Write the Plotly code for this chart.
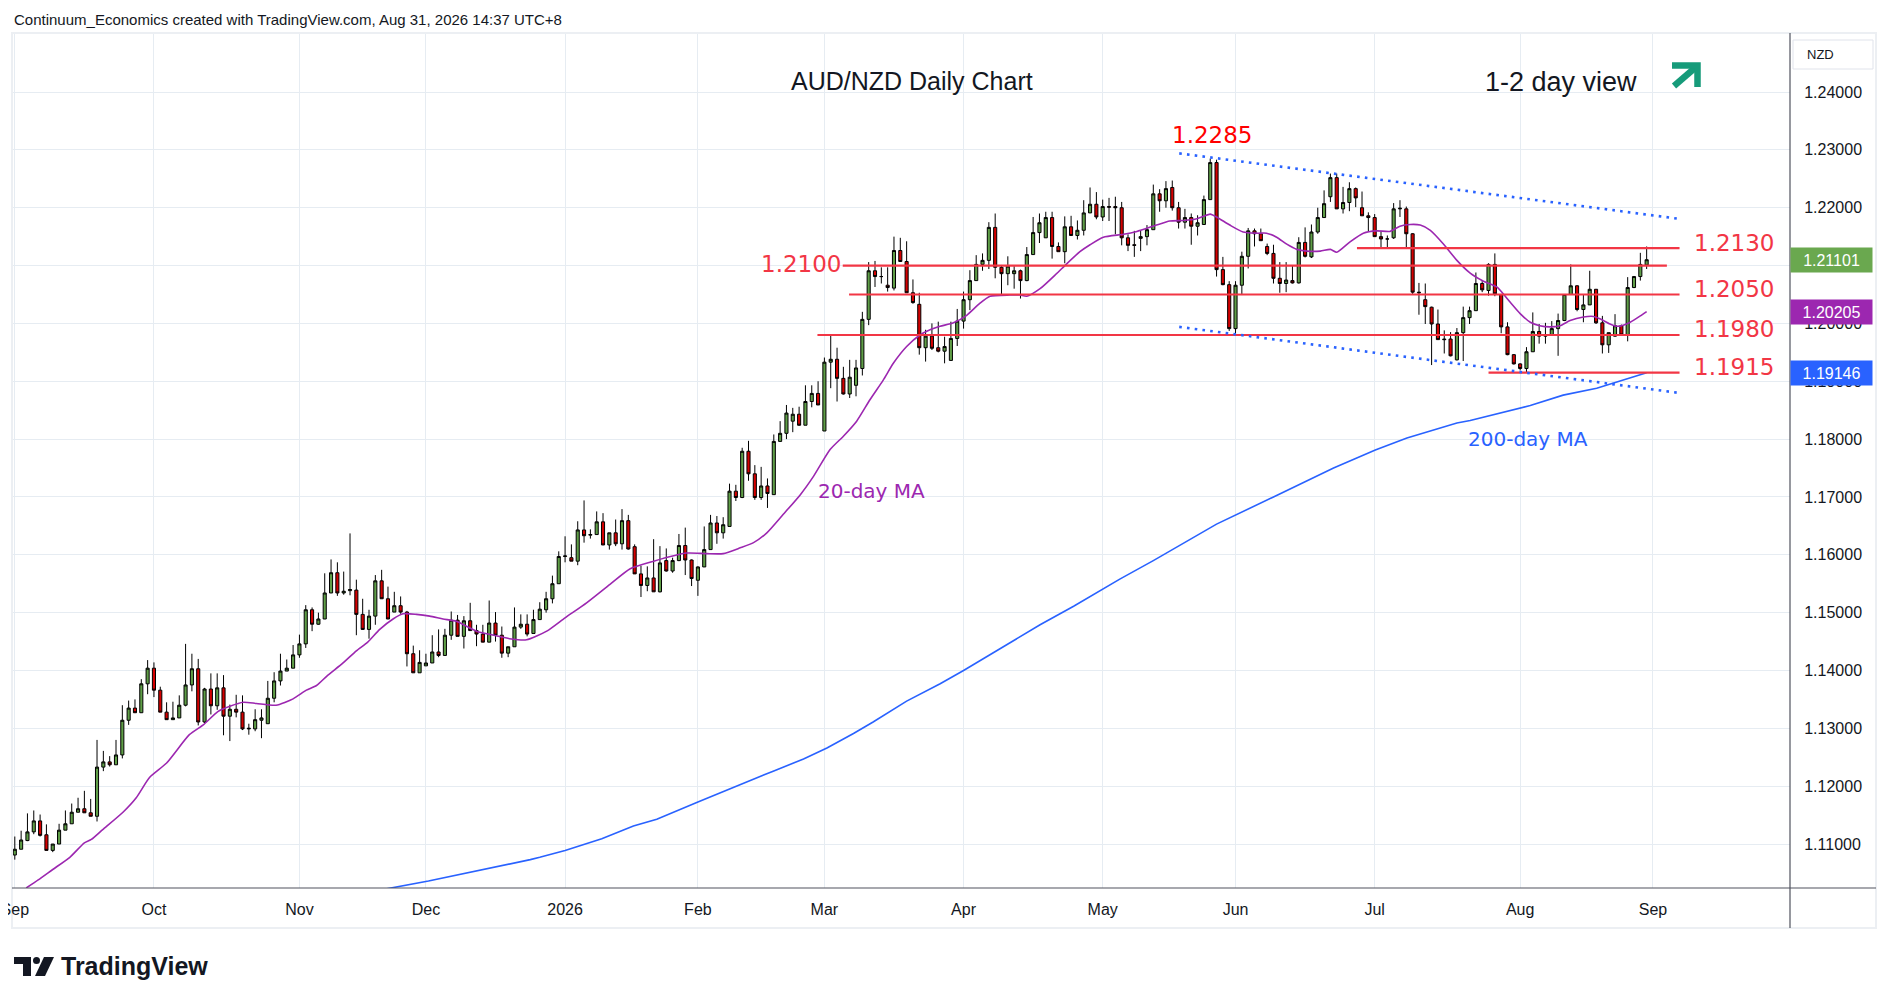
import plotly.graph_objects as go
import pandas as pd

# ---------------- data ----------------
holidays = ["2025-12-25", "2026-01-01"]
dates = [d for d in pd.bdate_range("2025-09-01", "2026-08-31") if d.strftime("%Y-%m-%d") not in holidays]

opens = [1.1081,1.1091,1.1106,1.1121,1.1140,1.1116,1.1089,1.1100,1.1124,1.1135,1.1155,1.1161,1.1154,1.1148,1.1233,1.1242,1.1237,1.1254,1.1314,1.1335,
1.1327,1.1377,1.1404,1.1366,1.1328,1.1315,1.1318,1.1340,1.1375,1.1403,1.1311,1.1368,1.1339,1.1370,1.1321,1.1333,1.1328,1.1299,1.1299,1.1314,
1.1308,1.1352,1.1382,1.1399,1.1404,1.1427,1.1446,1.1505,1.1480,1.1489,1.1534,1.1569,1.1534,1.1538,1.1539,1.1497,1.1471,1.1494,1.1555,1.1524,
1.1501,1.1512,1.1501,1.1429,1.1396,1.1408,1.1413,1.1432,1.1426,1.1461,1.1487,1.1459,1.1486,1.1469,1.1463,1.1449,1.1482,1.1461,1.1430,1.1441,
1.1475,1.1480,1.1464,1.1488,1.1505,1.1524,1.1550,1.1597,1.1595,1.1589,1.1643,1.1634,1.1635,1.1657,1.1617,1.1638,1.1619,1.1659,1.1614,1.1567,
1.1547,1.1560,1.1536,1.1590,1.1572,1.1590,1.1616,1.1591,1.1556,1.1579,1.1609,1.1655,1.1638,1.1649,1.1710,1.1699,1.1779,1.1740,1.1699,1.1719,
1.1704,1.1796,1.1810,1.1831,1.1843,1.1824,1.1865,1.1879,1.1814,1.1933,1.1938,1.1905,1.1878,1.1893,1.1922,1.2007,1.2091,1.2081,1.2066,1.2061,
1.2126,1.2107,1.2053,1.2033,1.1958,1.1978,1.1958,1.1952,1.1936,1.1974,1.2004,1.2041,1.2074,1.2102,1.2109,1.2166,1.2097,1.2086,1.2086,1.2091,
1.2074,1.2119,1.2157,1.2148,1.2183,1.2133,1.2124,1.2167,1.2152,1.2161,1.2191,1.2206,1.2184,1.2202,1.2202,1.2200,1.2148,1.2136,1.2147,1.2150,
1.2162,1.2224,1.2212,1.2235,1.2200,1.2175,1.2183,1.2168,1.2171,1.2214,1.2278,1.2093,1.2067,1.1991,1.2066,1.2116,1.2160,1.2155,1.2133,1.2121,
1.2078,1.2069,1.2074,1.2070,1.2140,1.2115,1.2158,1.2183,1.2219,1.2252,1.2198,1.2209,1.2233,1.2200,1.2186,1.2183,1.2150,1.2146,1.2148,1.2198,
1.2198,1.2155,1.2054,1.2041,1.2028,1.1999,1.1973,1.1973,1.1937,1.1984,1.2010,1.2022,1.2069,1.2057,1.2102,1.2050,1.1994,1.1946,1.1930,1.1922,
1.1951,1.1986,1.1978,1.1980,1.1991,1.2005,1.2050,1.2065,1.2024,1.2032,1.2059,1.2001,1.1963,1.1978,1.1996,1.1980,1.2062,1.2081,1.2101]

highs = [1.1113,1.1123,1.1153,1.1158,1.1151,1.1134,1.1100,1.1135,1.1158,1.1170,1.1180,1.1192,1.1178,1.1280,1.1261,1.1252,1.1280,1.1340,1.1348,1.1350,
1.1385,1.1418,1.1414,1.1372,1.1345,1.1346,1.1357,1.1446,1.1429,1.1420,1.1370,1.1395,1.1395,1.1392,1.1341,1.1358,1.1357,1.1308,1.1333,1.1333,
1.1382,1.1397,1.1429,1.1419,1.1444,1.1462,1.1513,1.1509,1.1500,1.1568,1.1592,1.1587,1.1571,1.1637,1.1557,1.1524,1.1505,1.1565,1.1574,1.1545,
1.1536,1.1528,1.1503,1.1443,1.1435,1.1429,1.1461,1.1471,1.1472,1.1502,1.1496,1.1494,1.1517,1.1479,1.1479,1.1521,1.1501,1.1476,1.1441,1.1509,
1.1497,1.1497,1.1505,1.1518,1.1536,1.1564,1.1606,1.1632,1.1618,1.1658,1.1694,1.1644,1.1675,1.1672,1.1638,1.1661,1.1679,1.1669,1.1618,1.1581,
1.1580,1.1627,1.1615,1.1611,1.1595,1.1636,1.1647,1.1592,1.1580,1.1649,1.1669,1.1667,1.1665,1.1723,1.1721,1.1785,1.1797,1.1755,1.1752,1.1732,
1.1808,1.1831,1.1859,1.1854,1.1856,1.1893,1.1893,1.1900,1.1941,1.1981,1.1958,1.1925,1.1937,1.1937,1.2020,1.2106,1.2108,1.2097,1.2097,1.2150,
1.2148,1.2142,1.2076,1.2053,1.1989,1.2000,1.2003,1.1977,1.2003,1.2025,1.2055,1.2092,1.2118,1.2121,1.2175,1.2190,1.2101,1.2116,1.2099,1.2093,
1.2132,1.2184,1.2190,1.2193,1.2193,1.2140,1.2185,1.2186,1.2178,1.2213,1.2235,1.2227,1.2214,1.2217,1.2219,1.2210,1.2154,1.2160,1.2161,1.2170,
1.2240,1.2232,1.2246,1.2247,1.2210,1.2198,1.2190,1.2187,1.2221,1.2285,1.2283,1.2115,1.2073,1.2073,1.2124,1.2165,1.2164,1.2164,1.2138,1.2136,
1.2106,1.2106,1.2100,1.2149,1.2166,1.2171,1.2200,1.2230,1.2259,1.2259,1.2236,1.2244,1.2235,1.2228,1.2192,1.2189,1.2159,1.2152,1.2208,1.2213,
1.2202,1.2156,1.2070,1.2069,1.2029,1.2024,1.1988,1.1985,1.1992,1.2029,1.2029,1.2088,1.2073,1.2104,1.2121,1.2051,1.2002,1.1947,1.1931,1.1959,
1.2019,1.1999,1.2001,1.2004,1.2017,1.2050,1.2102,1.2066,1.2050,1.2091,1.2059,1.2013,1.1984,1.2016,1.1998,1.2080,1.2082,1.2122,1.2133]

lows = [1.1073,1.1091,1.1105,1.1117,1.1113,1.1089,1.1086,1.1100,1.1124,1.1135,1.1155,1.1154,1.1148,1.1139,1.1226,1.1234,1.1237,1.1248,1.1306,1.1327,
1.1327,1.1359,1.1354,1.1328,1.1315,1.1315,1.1318,1.1338,1.1364,1.1305,1.1309,1.1324,1.1332,1.1288,1.1278,1.1319,1.1297,1.1289,1.1295,1.1283,
1.1308,1.1345,1.1374,1.1399,1.1404,1.1422,1.1439,1.1468,1.1479,1.1489,1.1534,1.1529,1.1531,1.1530,1.1461,1.1470,1.1455,1.1479,1.1524,1.1489,
1.1501,1.1498,1.1407,1.1396,1.1396,1.1408,1.1413,1.1423,1.1426,1.1453,1.1459,1.1438,1.1469,1.1442,1.1449,1.1449,1.1450,1.1422,1.1423,1.1441,
1.1472,1.1459,1.1464,1.1488,1.1500,1.1516,1.1550,1.1587,1.1589,1.1582,1.1621,1.1628,1.1635,1.1617,1.1609,1.1615,1.1609,1.1609,1.1567,1.1527,
1.1537,1.1536,1.1535,1.1571,1.1569,1.1589,1.1565,1.1546,1.1529,1.1579,1.1609,1.1619,1.1628,1.1649,1.1693,1.1698,1.1728,1.1695,1.1695,1.1681,
1.1704,1.1796,1.1800,1.1812,1.1823,1.1824,1.1855,1.1859,1.1814,1.1888,1.1865,1.1877,1.1871,1.1874,1.1910,1.1997,1.2063,1.2069,1.2055,1.2057,
1.2107,1.2053,1.2034,1.1946,1.1934,1.1954,1.1950,1.1931,1.1936,1.1961,1.1991,1.2023,1.2074,1.2091,1.2094,1.2078,1.2048,1.2066,1.2060,1.2043,
1.2073,1.2119,1.2139,1.2148,1.2112,1.2124,1.2104,1.2152,1.2145,1.2152,1.2191,1.2180,1.2177,1.2177,1.2154,1.2135,1.2125,1.2115,1.2125,1.2135,
1.2162,1.2193,1.2200,1.2195,1.2164,1.2164,1.2136,1.2152,1.2171,1.2214,1.2081,1.2066,1.1987,1.1982,1.2049,1.2095,1.2133,1.2143,1.2118,1.2069,
1.2053,1.2054,1.2069,1.2069,1.2114,1.2113,1.2155,1.2183,1.2210,1.2198,1.2190,1.2194,1.2201,1.2186,1.2158,1.2150,1.2132,1.2132,1.2146,1.2184,
1.2131,1.2051,1.2015,1.1999,1.1928,1.1972,1.1948,1.1943,1.1936,1.1935,1.1999,1.2022,1.2054,1.2048,1.2047,1.1983,1.1945,1.1929,1.1919,1.1915,
1.1951,1.1965,1.1965,1.1980,1.1944,1.2004,1.2050,1.2021,1.2002,1.2032,1.1999,1.1948,1.1949,1.1977,1.1979,1.1969,1.2061,1.2074,1.2094]

closes = [1.1091,1.1107,1.1121,1.1140,1.1115,1.1089,1.1100,1.1124,1.1135,1.1155,1.1161,1.1154,1.1148,1.1233,1.1242,1.1237,1.1254,1.1314,1.1335,1.1327,
1.1377,1.1404,1.1366,1.1328,1.1315,1.1318,1.1340,1.1375,1.1403,1.1311,1.1368,1.1339,1.1370,1.1321,1.1333,1.1328,1.1299,1.1300,1.1315,1.1318,
1.1352,1.1382,1.1399,1.1404,1.1427,1.1446,1.1505,1.1480,1.1489,1.1534,1.1569,1.1534,1.1537,1.1540,1.1497,1.1471,1.1494,1.1555,1.1524,1.1489,
1.1512,1.1501,1.1429,1.1396,1.1414,1.1413,1.1432,1.1426,1.1461,1.1487,1.1459,1.1486,1.1469,1.1463,1.1449,1.1482,1.1461,1.1430,1.1441,1.1475,
1.1480,1.1463,1.1488,1.1506,1.1524,1.1550,1.1597,1.1598,1.1589,1.1643,1.1633,1.1635,1.1657,1.1617,1.1638,1.1619,1.1659,1.1610,1.1567,1.1547,
1.1560,1.1536,1.1586,1.1572,1.1590,1.1616,1.1591,1.1559,1.1579,1.1609,1.1655,1.1638,1.1652,1.1710,1.1699,1.1779,1.1740,1.1699,1.1719,1.1706,
1.1796,1.1810,1.1845,1.1843,1.1824,1.1865,1.1879,1.1859,1.1933,1.1938,1.1905,1.1878,1.1907,1.1923,1.2007,1.2091,1.2081,1.2081,1.2062,1.2126,
1.2107,1.2053,1.2036,1.1958,1.1978,1.1957,1.1952,1.1960,1.1974,1.2004,1.2041,1.2074,1.2102,1.2109,1.2166,1.2097,1.2086,1.2099,1.2091,1.2074,
1.2119,1.2157,1.2174,1.2183,1.2133,1.2124,1.2167,1.2152,1.2161,1.2191,1.2206,1.2184,1.2202,1.2201,1.2200,1.2148,1.2135,1.2135,1.2150,1.2162,
1.2224,1.2212,1.2233,1.2200,1.2175,1.2183,1.2168,1.2174,1.2214,1.2278,1.2093,1.2067,1.1991,1.2066,1.2116,1.2160,1.2155,1.2143,1.2121,1.2078,
1.2069,1.2075,1.2070,1.2140,1.2116,1.2158,1.2183,1.2207,1.2252,1.2198,1.2209,1.2233,1.2217,1.2186,1.2183,1.2150,1.2146,1.2146,1.2198,1.2199,
1.2155,1.2054,1.2053,1.2029,1.1999,1.1972,1.1972,1.1944,1.1984,1.2010,1.2022,1.2069,1.2058,1.2102,1.2051,1.1994,1.1946,1.1930,1.1922,1.1951,
1.1986,1.1978,1.1980,1.1991,1.2005,1.2050,1.2065,1.2024,1.2032,1.2059,1.2001,1.1963,1.1984,1.1996,1.1980,1.2062,1.2081,1.2102,1.21101]

# 20-day MA (bar index, value)
ma20_x = [1.8,3.7,6.0,8.7,11.0,12.1,13.9,17.1,19.2,21.3,24.0,27.6,29.8,32.1,34.0,36.1,38.2,41.3,44.0,46.1,47.7,49.3,51.9,54.0,55.8,57.7,59.8,61.4,63.5,65.6,
67.7,69.8,73.0,76.1,78.2,80.9,84.1,87.0,90.4,94.1,97.3,101.0,106.2,109.4,112.0,114.7,116.8,118.9,121.5,124.2,126.3,128.9,131.0,133.1,135.2,137.3,138.9,141.0,143.1,144.7,
146.3,148.4,150.5,152.6,154.2,157.3,158.9,160.0,162.1,164.7,166.3,168.4,170.0,172.1,175.3,177.4,180.5,182.6,184.8,186.9,189.0,190.0,192.1,194.2,196.4,197.9,199.5,201.1,202.7,204.3,
206.4,208.0,209.0,211.1,213.2,215.3,217.4,219.0,220.6,222.2,223.8,225.9,228.0,230.1,232.2,234.3,236.4,238.0,239.6,241.1,242.7,244.3,245.9,248.0,249.6,250.6,252.2,253.3,254.3,255.4,
257.0,258.0]
ma20_y = [1.1024,1.1038,1.1056,1.1077,1.1102,1.1108,1.1125,1.1155,1.1180,1.1215,1.1240,1.1289,1.1306,1.1329,1.1338,1.1345,1.1343,1.1340,1.1351,1.1366,1.1374,1.1390,1.1413,1.1434,1.1449,1.1471,1.1489,1.1498,1.1497,1.1494,
1.1489,1.1485,1.1468,1.1460,1.1455,1.1453,1.1468,1.1491,1.1517,1.1549,1.1576,1.1589,1.1603,1.1602,1.1602,1.1612,1.1621,1.1638,1.1670,1.1704,1.1736,1.1782,1.1805,1.1831,1.1868,1.1902,1.1931,1.1960,1.1980,1.1989,
1.1995,1.2001,1.2014,1.2035,1.2047,1.2049,1.2049,1.2047,1.2060,1.2086,1.2103,1.2124,1.2136,1.2149,1.2154,1.2159,1.2170,1.2177,1.2178,1.2181,1.2189,1.2184,1.2170,1.2158,1.2156,1.2156,1.2149,1.2137,1.2128,1.2125,
1.2125,1.2128,1.2123,1.2141,1.2156,1.2160,1.2159,1.2168,1.2171,1.2170,1.2161,1.2137,1.2109,1.2087,1.2073,1.2063,1.2037,1.2017,1.2002,1.1996,1.1994,1.1996,1.2005,1.2011,1.2012,1.2008,1.1999,1.1995,1.1997,1.2002,
1.2013,1.20205]

# 200-day MA (bar index, value)
ma200_x = [57.5,65.4,81.5,83.0,87.0,92.8,97.8,101.5,108.1,114.7,119.9,124.7,128.4,132.6,135.7,141.0,146.3,150.0,156.8,158.9,162.1,167.4,174.7,180.0,190.0,199.0,208.5,215.1,220.1,228.0,230.1,239.6,244.8,250.1,258.0]
ma200_y = [1.1020,1.1036,1.1073,1.1077,1.1089,1.1109,1.1131,1.1143,1.1173,1.1203,1.1226,1.1247,1.1266,1.1291,1.1311,1.1347,1.1377,1.1400,1.1445,1.1458,1.1479,1.1511,1.1558,1.1590,1.1653,1.1700,1.1750,1.1781,1.1802,1.1828,1.1832,1.1858,1.1876,1.1888,1.19146]

# drawn support / resistance levels
level_price = [1.2130, 1.2100, 1.2050, 1.1980, 1.1915]
level_text = ["1.2130", "1.2100", "1.2050", "1.1980", "1.1915"]
level_x0 = [212.2, 130.9, 131.9, 126.9, 233.0]
level_x1 = [263.2, 261.2, 263.2, 263.2, 263.2]

# dotted channel lines
chan_x = [184.1, 263.0]
chan_upper = [1.2294, 1.2181]
chan_lower = [1.1994, 1.1880]

peak_text = "1.2285"
last_price, ma20_last, ma200_last = 1.21101, 1.20205, 1.19146
y_ticks = [1.11, 1.12, 1.13, 1.14, 1.15, 1.16, 1.17, 1.18, 1.19, 1.20, 1.21, 1.22, 1.23, 1.24]
y_hidden = [1.21]   # fully covered by the last-price badge in the reference

# ---------------- layout helpers (reference pixel coordinates) ----------------
OFF = 8                      # default page body margin
W, H = 1889, 1003            # reference picture size
FW, FH = W - 2 * OFF, H - 2 * OFF
PL, PR, PT, PB = 13, 1790, 34, 888
BAR0, BARW = 14.8, 6.325
Y_TOP, Y_BOT = 1.25003, 1.10240


def xp(px):
    return (px - PL) / (PR - PL)


def yp(py):
    return (PB - py) / (PB - PT)


UP, DN = "#5f9e47", "#d40000"
PURPLE, BLUE, LRED = "#9c27b0", "#2962ff", "#f23645"
GRID = "#e6ecf2"
TXT = "#131722"
FONT = "Liberation Sans"

xs = list(range(len(dates)))

# month ticks
tick_idx, tick_txt = [], []
prev = None
for i, d in enumerate(dates):
    key = (d.year, d.month)
    if key != prev:
        tick_idx.append(i)
        tick_txt.append(str(d.year) if d.month == 1 else d.strftime("%b"))
        prev = key
tick_idx.append(len(dates))
tick_txt.append("Sep")

fig = go.Figure()

fig.add_trace(go.Scatter(x=ma200_x, y=ma200_y, mode="lines", line=dict(color=BLUE, width=1.6),
                         hoverinfo="skip", showlegend=False))
fig.add_trace(go.Scatter(x=ma20_x, y=ma20_y, mode="lines", line=dict(color=PURPLE, width=1.6, shape="spline", smoothing=0.6),
                         hoverinfo="skip", showlegend=False))

for p, a, b in zip(level_price, level_x0, level_x1):
    fig.add_trace(go.Scatter(x=[a, b], y=[p, p], mode="lines", line=dict(color=LRED, width=2.2),
                             hoverinfo="skip", showlegend=False))

for ys in (chan_upper, chan_lower):
    fig.add_trace(go.Scatter(x=chan_x, y=ys, mode="lines", line=dict(color=BLUE, width=2.6, dash="2.6px,5.2px"),
                             hoverinfo="skip", showlegend=False))

fig.add_trace(go.Candlestick(
    x=xs, open=opens, high=highs, low=lows, close=closes,
    increasing=dict(fillcolor=UP, line=dict(color="#000000", width=1)),
    decreasing=dict(fillcolor=DN, line=dict(color="#000000", width=1)),
    whiskerwidth=0, hoverinfo="skip", showlegend=False))

ann = []
ann.append(dict(x=xp(12), y=yp(19), xref="paper", yref="paper", xanchor="left", yanchor="middle",
                text="Continuum_Economics created with TradingView.com, Aug 31, 2026 14:37 UTC+8",
                showarrow=False, font=dict(family=FONT, size=15, color=TXT)))
ann.append(dict(x=xp(912), y=yp(81), xref="paper", yref="paper", xanchor="center", yanchor="middle",
                text="AUD/NZD Daily Chart", showarrow=False, font=dict(family=FONT, size=25, color=TXT)))
ann.append(dict(x=xp(1561), y=yp(82), xref="paper", yref="paper", xanchor="center", yanchor="middle",
                text="1-2 day view", showarrow=False, font=dict(family=FONT, size=27, color=TXT)))
for p, t in zip(level_price, level_text):
    if t == "1.2100":
        ann.append(dict(x=(801 - BAR0) / BARW, y=p, xref="x", yref="y", xanchor="center", yanchor="middle",
                        yshift=2, text=t, showarrow=False, font=dict(family="DejaVu Sans", size=23, color=LRED)))
    else:
        ann.append(dict(x=(1734 - BAR0) / BARW, y=p, xref="x", yref="y", xanchor="center", yanchor="middle",
                        yshift=5.5, text=t, showarrow=False, font=dict(family="DejaVu Sans", size=23, color=LRED)))
ann.append(dict(x=xp(1212), y=yp(135), xref="paper", yref="paper", xanchor="center", yanchor="middle",
                text=peak_text, showarrow=False, font=dict(family="DejaVu Sans", size=23, color="#ff0000")))
ann.append(dict(x=xp(871.7), y=yp(490.7), xref="paper", yref="paper", xanchor="center", yanchor="middle",
                text="20-day MA", showarrow=False, font=dict(family="DejaVu Sans", size=20, color=PURPLE)))
ann.append(dict(x=xp(1528), y=yp(439), xref="paper", yref="paper", xanchor="center", yanchor="middle",
                text="200-day MA", showarrow=False, font=dict(family="DejaVu Sans", size=20, color=BLUE)))
for v, c in ((last_price, "#6aa84f"), (ma20_last, PURPLE), (ma200_last, BLUE)):
    ann.append(dict(x=1, y=v, xref="paper", yref="y", xanchor="left", yanchor="middle",
                    text=f"{v:.5f}", showarrow=False, bgcolor=c, width=77, height=20, borderpad=2,
                    align="center", font=dict(family=FONT, size=16, color="#ffffff")))
ann.append(dict(x=xp(1805), y=yp(54), xref="paper", yref="paper", xanchor="left", yanchor="middle",
                text="NZD", showarrow=False, font=dict(family=FONT, size=13, color=TXT)))
ann.append(dict(x=xp(59), y=yp(966), xref="paper", yref="paper", xanchor="left", yanchor="middle",
                text="<b>TradingView</b>", showarrow=False, font=dict(family=FONT, size=25, color=TXT)))

shapes = []
shapes.append(dict(type="rect", xref="paper", yref="paper", x0=xp(12), x1=xp(1876), y0=yp(33), y1=yp(928),
                   line=dict(color="#eceff3", width=2), layer="below"))
shapes.append(dict(type="line", xref="paper", yref="paper", x0=xp(12), x1=xp(1876), y0=yp(888), y1=yp(888),
                   line=dict(color="#50535e", width=1.2)))
shapes.append(dict(type="line", xref="paper", yref="paper", x0=xp(1790), x1=xp(1790), y0=yp(33), y1=yp(928),
                   line=dict(color="#50535e", width=1.2)))
shapes.append(dict(type="rect", xref="paper", yref="paper", x0=xp(1793), x1=xp(1873), y0=yp(40), y1=yp(69),
                   line=dict(color="#e0e3eb", width=1), fillcolor="#ffffff", layer="below"))
AR = "#169b7a"
shapes.append(dict(type="path", xref="paper", yref="paper",
                   path=f"M {xp(1674)},{yp(86)} L {xp(1696)},{yp(67)}", line=dict(color=AR, width=6.5)))
shapes.append(dict(type="path", xref="paper", yref="paper",
                   path=f"M {xp(1672)},{yp(65.5)} L {xp(1697.5)},{yp(65.5)} L {xp(1697.5)},{yp(87)}",
                   line=dict(color=AR, width=6.5)))
shapes.append(dict(type="rect", xref="paper", yref="paper", x0=xp(14), x1=xp(31), y0=yp(957), y1=yp(964),
                   line=dict(width=0), fillcolor=TXT))
shapes.append(dict(type="rect", xref="paper", yref="paper", x0=xp(23), x1=xp(31), y0=yp(957), y1=yp(976),
                   line=dict(width=0), fillcolor=TXT))
shapes.append(dict(type="circle", xref="paper", yref="paper", x0=xp(33), x1=xp(40), y0=yp(957), y1=yp(964),
                   line=dict(width=0), fillcolor=TXT))
shapes.append(dict(type="path", xref="paper", yref="paper",
                   path=f"M {xp(44)},{yp(957)} L {xp(54)},{yp(957)} L {xp(45)},{yp(976)} L {xp(35)},{yp(976)} Z",
                   line=dict(width=0), fillcolor=TXT))

fig.update_layout(
    width=FW, height=FH,
    margin=dict(l=PL - OFF, r=FW - (PR - OFF), t=PT - OFF, b=FH - (PB - OFF), pad=0, autoexpand=False),
    paper_bgcolor="#ffffff", plot_bgcolor="#ffffff",
    showlegend=False, hovermode=False,
    font=dict(family=FONT, color=TXT),
    annotations=ann, shapes=shapes,
    xaxis=dict(range=[(PL - BAR0) / BARW, (PR - BAR0) / BARW], tickvals=tick_idx, ticktext=tick_txt,
               showgrid=True, gridcolor=GRID, gridwidth=1, zeroline=False, showline=False, automargin=False,
               ticks="outside", ticklen=7, tickcolor="rgba(0,0,0,0)", ticklabeloverflow="allow",
               tickfont=dict(family=FONT, size=16, color=TXT), rangeslider=dict(visible=False), fixedrange=True),
    yaxis=dict(side="right", range=[Y_BOT, Y_TOP], tickvals=y_ticks,
               ticktext=["" if v in y_hidden else f"{v:.5f}" for v in y_ticks],
               showgrid=True, gridcolor=GRID, gridwidth=1, zeroline=False, showline=False, automargin=False,
               ticks="outside", ticklen=10, tickcolor="rgba(0,0,0,0)",
               tickfont=dict(family=FONT, size=16, color=TXT), fixedrange=True),
    boxgap=0.3,
)

fig.write_html("out.html")
